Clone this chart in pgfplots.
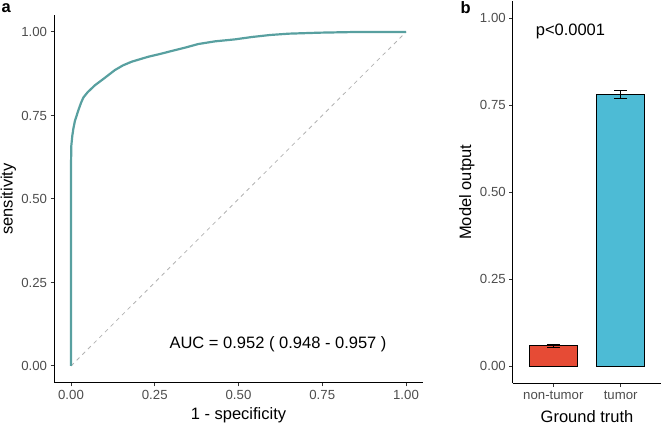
\documentclass[border=0pt]{standalone}
\usepackage{pgfplots}
\pgfplotsset{compat=1.18}
\usepackage{fontspec}
\setmainfont{Liberation Sans}
\definecolor{roc}{RGB}{88,160,160}
\definecolor{npgred}{HTML}{E64B35}
\definecolor{npgblue}{HTML}{4DBBD5}
\definecolor{tickgray}{HTML}{4D4D4D}
\definecolor{tickmark}{HTML}{333333}
\definecolor{diag}{HTML}{B3B3B3}
\newcommand{\ticksize}{\fontsize{13.2bp}{15bp}\selectfont}
\newcommand{\titlesize}{\fontsize{16.5bp}{19bp}\selectfont}
\pgfplotsset{gg/.style={
  scale only axis, anchor=south west,
  axis x line*=bottom, axis y line*=left,
  axis line style={-, black, line width=1.1bp},
  tick align=outside, major tick length=3.7bp,
  tick style={tickmark, line width=1bp},
  tick label style={font=\ticksize, text=tickgray},
  /pgf/number format/assume math mode=true,
  label style={font=\titlesize},
  ymin=-0.05, ymax=1.05, ytick={0,0.25,0.5,0.75,1},
  yticklabels={0.00,0.25,0.50,0.75,1.00},
  xlabel style={at={([yshift=-33bp]axis description cs:0.5,0)}, anchor=center},
  ylabel style={at={([xshift=-46bp]axis description cs:0,0.5)}, anchor=center},
}}
\begin{document}
\begin{tikzpicture}
\useasboundingbox (0bp,0bp) rectangle (663bp,425bp);
% panel a
\begin{axis}[gg, at={(54.25bp,42.3bp)}, width=368.5bp, height=367.4bp,
  xmin=-0.05, xmax=1.05, xtick={0,0.25,0.5,0.75,1},
  xticklabels={0.00,0.25,0.50,0.75,1.00},
  xlabel={1 - specificity}, ylabel={sensitivity}]
\addplot[diag, dash pattern=on 4bp off 4bp, line width=0.8bp] coordinates {(0,0) (1,1)};
\addplot[roc, line width=2.2bp, line join=round] coordinates {
(0,0) (0,0.60) (0.001,0.66) (0.004,0.69) (0.007,0.71) (0.012,0.735)
(0.017,0.75) (0.022,0.766) (0.030,0.788) (0.037,0.804) (0.050,0.820)
(0.072,0.841) (0.100,0.862) (0.131,0.886) (0.155,0.900) (0.181,0.911)
(0.231,0.926) (0.265,0.934) (0.300,0.943) (0.340,0.953) (0.380,0.964)
(0.430,0.972) (0.490,0.978) (0.540,0.985) (0.594,0.991) (0.650,0.995)
(0.743,0.998) (0.850,1.000) (1,1)};
\node[font=\titlesize] at (axis cs:0.618,0.064) {AUC = 0.952 ( 0.948 - 0.957 )};
\end{axis}
% panel b
\begin{axis}[gg, at={(512.9bp,41.6bp)}, width=148.2bp, height=382.5bp,
  xmin=0.4, xmax=2.6, xtick={1,2}, xticklabels={non-tumor,tumor},
  xlabel={Ground truth}, ylabel={Model output}]
\addplot[ybar, bar width=0.71, bar shift=0pt, fill=npgred, draw=black, line width=0.8bp] coordinates {(1,0.058)};
\addplot[ybar, bar width=0.71, bar shift=0pt, fill=npgblue, draw=black, line width=0.8bp] coordinates {(2,0.781)};
\addplot[draw=none, mark=none, error bars/.cd, y dir=both, y explicit,
  error bar style={black, line width=1bp},
  error mark options={black, rotate=90, mark size=6.5bp, line width=1bp}]
  coordinates {(1,0.058) +- (0,0.004) (2,0.781) +- (0,0.0125)};
\node[font=\titlesize, anchor=west] at (axis cs:0.688,0.961) {p<0.0001};
\end{axis}
\node[font=\titlesize\bfseries, anchor=base west, inner sep=0pt] at (1.5bp,412.5bp) {a};
\node[font=\titlesize\bfseries, anchor=base west, inner sep=0pt] at (460.5bp,411bp) {b};
\end{tikzpicture}
\end{document}
